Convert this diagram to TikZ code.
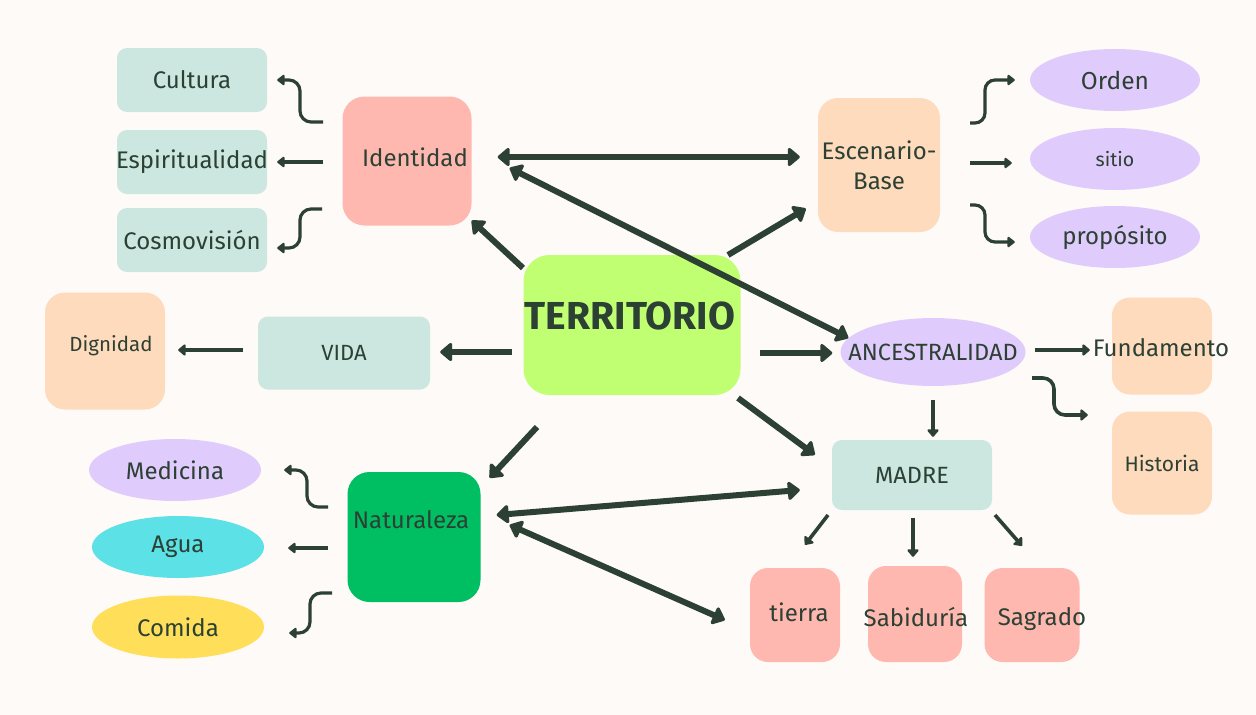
\documentclass[tikz,border=0pt]{standalone}
\usepackage{fontspec}
\setmainfont{Fira Sans}
\usetikzlibrary{arrows.meta,shapes.geometric,calc}
\definecolor{bg}{HTML}{FEFAF7}
\definecolor{mint}{HTML}{CBE7E0}
\definecolor{salmon}{HTML}{FFB8B0}
\definecolor{peach}{HTML}{FEDBBD}
\definecolor{lav}{HTML}{E0CCFC}
\definecolor{lime}{HTML}{C1FF72}
\definecolor{grn}{HTML}{00BF63}
\definecolor{cyan}{HTML}{5CE1E6}
\definecolor{yel}{HTML}{FFDE59}
\definecolor{ink}{HTML}{2C4034}
\newcommand\fsz[1]{\fontsize{#1}{#1}\selectfont}
\newcommand\zw[1]{\makebox[0pt]{#1}}
\tikzset{
  box/.style={rectangle, rounded corners=16pt, inner sep=0pt, text=ink, font=\fsz{24}, align=center},
  ell/.style={ellipse, inner sep=0pt, text=ink, font=\fsz{24}},
  lbl/.style={inner sep=0pt, text=ink, font=\fsz{24}, align=center},
  thickarr/.style={draw=ink, line width=6pt, -{Triangle[round, length=13pt, width=21pt]}},
  dblarr/.style={draw=ink, line width=6pt, {Triangle[round, length=13pt, width=21pt]}-{Triangle[round, length=13pt, width=21pt]}},
  thinarr/.style={draw=ink, line width=3.2pt, -{Triangle[round, length=8pt, width=12pt]}},
  midarr/.style={draw=ink, line width=3.6pt, -{Triangle[round, length=8pt, width=13pt]}},
}
\begin{document}
\begin{tikzpicture}[x=1pt, y=-1pt]
\useasboundingbox (0,0) rectangle (1256,715);
\fill[bg] (0,0) rectangle (1256,715);

% ---- nodes ----
\node[box, fill=mint, rounded corners=10pt, minimum width=150pt, minimum height=64pt] (cultura) at (192,80) {Cultura};
\node[box, fill=mint, rounded corners=10pt, minimum width=150pt, minimum height=64pt] (espirit) at (192,162) {\zw{Espiritualidad}};
\node[box, fill=mint, rounded corners=10pt, minimum width=150pt, minimum height=64pt] (cosmo) at (192,240) {Cosmovisión};
\node[box, fill=salmon, rounded corners=22pt, minimum width=129pt, minimum height=129pt] (identidad) at (407,161) {};
\node[lbl] (identidad-t) at (415,157) {Identidad};
\node[box, fill=peach, rounded corners=20pt, minimum width=122pt, minimum height=134pt] (escenario) at (879,165) {Escenario-\\[6pt]Base};
\node[ell, fill=lav, minimum width=170pt, minimum height=62pt, font=\fsz{24.5}] (orden) at (1115,80) {\zw{Orden}};
\node[ell, fill=lav, minimum width=170pt, minimum height=62pt, font=\fsz{19.5}] (sitio) at (1115,159) {\zw{sitio}};
\node[ell, fill=lav, minimum width=170pt, minimum height=62pt] (propos) at (1115,237) {\zw{propósito}};

\node[box, fill=lime, rounded corners=26pt, minimum width=217pt, minimum height=140pt] (territorio) at (632,325) {};
\node[lbl, font=\fsz{39}\bfseries] (territorio-t) at (630,316) {TERRITORIO};

\node[box, fill=peach, rounded corners=20pt, minimum width=120pt, minimum height=117pt] (dignidad) at (105,351) {};
\node[lbl, font=\fsz{20.5}] (dignidad-t) at (111,346) {Dignidad};
\node[box, fill=mint, rounded corners=10pt, minimum width=172pt, minimum height=73pt, font=\fsz{22}] (vida) at (344,353) {VIDA};

\node[ell, fill=lav, minimum width=185pt, minimum height=68pt, font=\fsz{23.5}] (ancestr) at (933,352) {\zw{ANCESTRALIDAD}};
\node[box, fill=peach, rounded corners=18pt, minimum width=100pt, minimum height=97pt] (fundamento) at (1162,346) {};
\node[lbl] (fundamento-t) at (1161,348) {Fundamento};
\node[box, fill=peach, rounded corners=18pt, minimum width=100pt, minimum height=103pt, font=\fsz{21}] (historia) at (1162,463) {Historia};
\node[box, fill=mint, rounded corners=10pt, minimum width=160pt, minimum height=70pt, font=\fsz{23.5}] (madre) at (912,475) {MADRE};

\node[box, fill=grn, rounded corners=22pt, minimum width=133pt, minimum height=130pt] (naturaleza) at (414,537) {};
\node[lbl] (naturaleza-t) at (411,520) {Naturaleza};
\node[ell, fill=lav, minimum width=172pt, minimum height=62pt] (medicina) at (175,470) {\zw{Medicina}};
\node[ell, fill=cyan, minimum width=172pt, minimum height=62pt] (agua) at (178,547) {\zw{Agua}};
\node[ell, fill=yel, minimum width=172pt, minimum height=63pt] (comida) at (178,627) {\zw{Comida}};

\node[box, fill=salmon, rounded corners=18pt, minimum width=90pt, minimum height=94pt] (tierra) at (795,615) {};
\node[lbl] (tierra-t) at (799,612) {tierra};
\node[box, fill=salmon, rounded corners=18pt, minimum width=94pt, minimum height=96pt] (sabid) at (915,614) {};
\node[lbl] (sabid-t) at (916,617) {Sabiduría};
\node[box, fill=salmon, rounded corners=18pt, minimum width=95pt, minimum height=94pt] (sagrado) at (1032,615) {};
\node[lbl] (sagrado-t) at (1042,619) {Sagrado};

% ---- start coordinates ----
\coordinate (i1) at (323,122);
\coordinate (i2) at (323,162);
\coordinate (i3) at (322,209);
\coordinate (t1) at (523,268);
\coordinate (t2) at (728,255);
\coordinate (t3) at (512,352);
\coordinate (t4) at (760,353);
\coordinate (t5) at (738,398);
\coordinate (t6) at (537,427);
\coordinate (v1) at (243,350);
\coordinate (a2) at (1035,350);
\coordinate (a3) at (1032,378);
\coordinate (a4) at (933,400);
\coordinate (e1) at (970,123);
\coordinate (e2) at (970,163);
\coordinate (e3) at (970,205);
\coordinate (n1) at (328,507);
\coordinate (n2) at (328,548);
\coordinate (n3) at (332,593);
\coordinate (m1) at (828,515);
\coordinate (m2) at (913,518);
\coordinate (m3) at (995,515);

% ---- connectors ----
\draw[thinarr, rounded corners=11pt, shorten >=10pt] (i1) -- ++(-23,0) |- (cultura.east);
\draw[thinarr, shorten >=10pt] (i2) -- (i2 -| espirit.east);
\draw[thinarr, rounded corners=11pt] (i3) -- ++(-22,0) |- ([xshift=10pt,yshift=-8pt]cosmo.east);

\draw[dblarr] ([xshift=26pt,yshift=4pt]identidad.east) -- ([xshift=-18pt,yshift=8pt]escenario.west);
\draw[dblarr] ([xshift=38pt,yshift=-7pt]identidad.east) -- ([xshift=8pt,yshift=14pt]ancestr.west);

\draw[thickarr] (t1) -- (identidad);
\draw[thickarr, shorten >=14pt] (t2) -- (escenario);
\draw[thickarr, shorten >=10pt] (t3) -- (t3 -| vida.east);
\draw[thickarr, shorten >=8pt] (t4) -- (t4 -| ancestr.west);
\draw[thickarr] (t5) -- ([xshift=-17pt,yshift=-15pt]madre.north west);
\draw[thickarr] (t6) -- ([xshift=9pt,yshift=-6pt]naturaleza.north east);

\draw[midarr, shorten >=13pt] (v1) -- (v1 -| dignidad.east);

\draw[midarr] (a2) -- ([xshift=-22pt,yshift=-4pt]fundamento.west);
\draw[midarr, rounded corners=11pt] (a3) -- ++(22,0) |- ([xshift=-24pt,yshift=48pt]historia.west);
\draw[midarr, shorten >=3pt] (a4) -- (a4 |- madre.north);

\draw[thinarr, rounded corners=10pt] (e1) -- ++(15,0) |- ([xshift=-15pt]orden.west);
\draw[thinarr, shorten >=18pt] (e2) -- (e2 -| sitio.west);
\draw[thinarr, rounded corners=10pt] (e3) -- ++(15,0) |- ([xshift=-15pt,yshift=-5pt]propos.west);

\draw[thinarr, rounded corners=11pt] (n1) -- ++(-21,0) |- ([xshift=23pt]medicina.east);
\draw[thinarr, shorten >=24pt] (n2) -- (n2 -| agua.east);
\draw[thinarr, rounded corners=11pt] (n3) -- ++(-22,0) |- ([xshift=25pt,yshift=-6pt]comida.east);

\draw[dblarr] ([xshift=16pt,yshift=22pt]naturaleza.east) -- ([xshift=-32pt,yshift=-15pt]madre.west);
\draw[dblarr] ([xshift=29pt,yshift=12pt]naturaleza.east) -- ([xshift=-25pt,yshift=-5pt]tierra.west);

\draw[midarr] (m1) -- ([xshift=10pt,yshift=23pt]tierra.north);
\draw[midarr] (m2) -- ([yshift=9pt]m2 |- sabid.north);
\draw[midarr] (m3) -- ([xshift=-10pt,yshift=22pt]sagrado.north);
\end{tikzpicture}
\end{document}
